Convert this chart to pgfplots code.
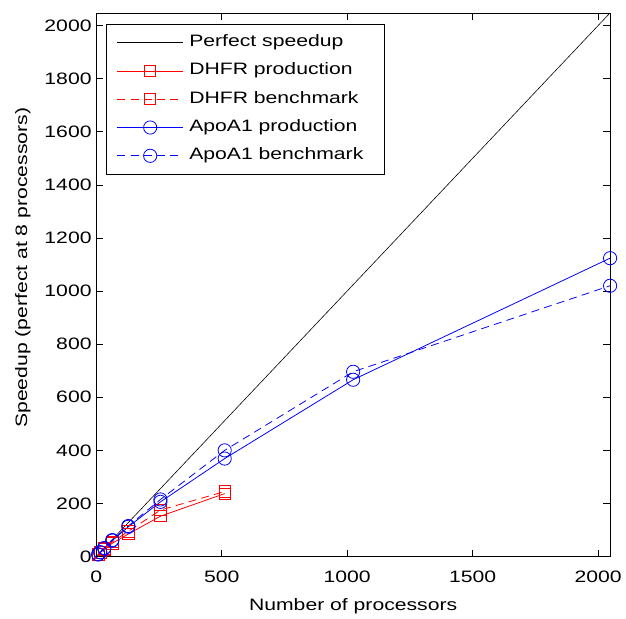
\documentclass[border=0pt]{standalone}
\usepackage{fontspec}
\setmainfont{Liberation Sans}[FakeStretch=1.28]
\usepackage{pgfplots}
\pgfplotsset{compat=1.18}
\newcommand\f{\fontsize{12.5}{14}\selectfont}

\begin{document}
\begin{tikzpicture}
\begin{axis}[
    at={(0,0)}, anchor=south west,
    scale only axis,
    width=388.5pt, height=411pt,
    xmin=0, xmax=2048, ymin=0, ymax=2048,
    xtick={0,500,1000,1500,2000},
    ytick={0,200,...,2000},
    tick align=inside,
    major tick length=5pt,
    tick style={black, line width=0.5pt},
    axis line style={line width=0.6pt},
    tick label style={font=\f},
    xticklabel style={yshift=-7pt},
    /pgf/number format/assume math mode=true,
    /pgf/number format/1000 sep={},
    xlabel={Number of processors},
    ylabel={Speedup (perfect at 8 processors)},
    label style={font=\f},
    xlabel style={at={(axis description cs:0.5,-0.091)}, anchor=center},
    ylabel style={at={(axis description cs:-0.143,0.531)}, anchor=center},
    legend style={at={(rel axis cs:0,1)}, anchor=north west,
        xshift=7.5pt, yshift=-8.5pt, font=\f, line width=0.5pt,
        inner xsep=8pt, inner ysep=3pt, column sep=2.5pt,
        nodes={text height=9pt, text depth=3pt, inner ysep=4.7pt}},
    legend cell align=left,
    legend image code/.code={\draw[mark repeat=2,mark phase=2,#1]
        plot coordinates {(0pt,0pt) (24.75pt,0pt) (49.5pt,0pt)};},
    every axis plot/.append style={line width=0.6pt},
]
\addplot[black, line width=0.45pt] coordinates {(0,0) (2048,2048)};
\addlegendentry{Perfect speedup}

\addplot[red, mark=square, mark size=4.3pt] coordinates {
    (8,8) (16,15) (32,27) (64,50) (128,85) (256,152) (512,237)};
\addlegendentry{DHFR production}

\addplot[red, dash pattern=on 6pt off 4pt, mark=square, mark size=4.3pt,
    mark options={solid}] coordinates {
    (8,8) (16,16) (32,30) (64,55) (128,95) (256,175) (512,245)};
\addlegendentry{DHFR benchmark}

\addplot[blue, mark=o, mark size=5pt] coordinates {
    (8,8) (16,16) (32,31) (64,60) (128,112) (256,206) (512,369) (1024,666) (2048,1124)};
\addlegendentry{ApoA1 production}

\addplot[blue, dash pattern=on 6pt off 4pt, mark=o, mark size=5pt,
    mark options={solid}] coordinates {
    (8,8) (16,16) (32,32) (64,62) (128,115) (256,215) (512,400) (1024,696) (2048,1020)};
\addlegendentry{ApoA1 benchmark\hspace*{6pt}}
\end{axis}
\path (-72.75pt,-41.25pt) rectangle (396.75pt,420.75pt);
\end{tikzpicture}
\end{document}
